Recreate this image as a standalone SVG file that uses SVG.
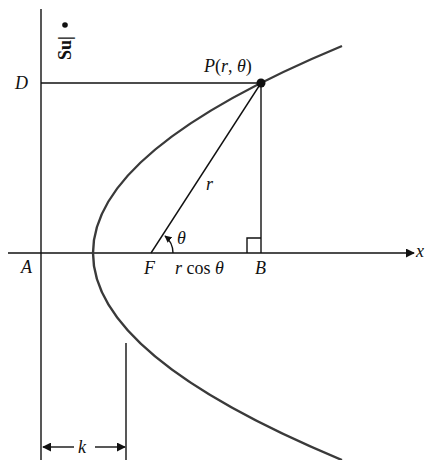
<svg xmlns="http://www.w3.org/2000/svg" width="425" height="460" viewBox="0 0 425 460">
<style>
.ln{stroke:#111;stroke-width:1.4;fill:none}
.t{font-family:"Liberation Serif",serif;font-style:italic;font-size:18px;fill:#111}
.u{font-family:"Liberation Serif",serif;font-size:18px;fill:#111}
</style>
<defs>
<marker id="ah" viewBox="0 0 10 10" refX="9" refY="5" markerWidth="9" markerHeight="9" markerUnits="userSpaceOnUse" orient="auto">
<path d="M0,0 L10,5 L0,10 z" fill="#111"/>
</marker>
<marker id="ahs" viewBox="0 0 10 10" refX="9" refY="5" markerWidth="7" markerHeight="7" markerUnits="userSpaceOnUse" orient="auto">
<path d="M0,0 L10,5 L0,10 z" fill="#111"/>
</marker>
</defs>
<g id="connectors">
<line class="ln" x1="41" y1="9" x2="41" y2="460"/>
<line class="ln" x1="8" y1="253" x2="414" y2="253" marker-end="url(#ah)"/>
<line class="ln" x1="41" y1="83" x2="261" y2="83"/>
<line class="ln" x1="261" y1="83" x2="261" y2="253"/>
<line class="ln" x1="151" y1="253" x2="261" y2="83"/>
<path class="ln" d="M247,253 V238 H261"/>
<path d="M342,46 Q-156,253 342,460" fill="none" stroke="#3a3a3a" stroke-width="2.4"/>
<path class="ln" d="M173,253 A22,22 0 0 0 165,236" marker-end="url(#ahs)"/>
<line class="ln" x1="126" y1="343" x2="126" y2="460"/>
<line class="ln" x1="74" y1="447" x2="43" y2="447" marker-end="url(#ah)"/>
<line class="ln" x1="95" y1="447" x2="125" y2="447" marker-end="url(#ah)"/>
</g>
<g id="point-P">
<circle cx="261" cy="83" r="4.5" fill="#111"/>
<text class="t" x="204" y="72">P<tspan font-style="normal">(</tspan>r<tspan font-style="normal">, </tspan> θ<tspan font-style="normal">)</tspan></text>
</g>
<g id="label-D"><text class="t" x="15" y="89">D</text></g>
<g id="label-A"><text class="t" x="21" y="273">A</text></g>
<g id="label-F"><text class="t" x="144" y="274">F</text></g>
<g id="label-B"><text class="t" x="255" y="274">B</text></g>
<g id="label-r"><text class="t" x="206" y="190">r</text></g>
<g id="label-theta"><text class="t" x="177" y="244" font-size="16">θ</text></g>
<g id="label-rcos"><text class="t" x="175" y="274">r <tspan font-style="normal">cos</tspan> θ</text></g>
<g id="label-x"><text class="t" x="416" y="257" font-size="14">x</text></g>
<g id="label-k"><text class="t" x="78" y="453">k</text></g>
<g id="scribble">
<text class="u" font-size="15" font-weight="bold" transform="translate(71,60) rotate(-90)">Su|</text>
<circle cx="65" cy="25" r="2.8" fill="#111"/>
</g>
</svg>
